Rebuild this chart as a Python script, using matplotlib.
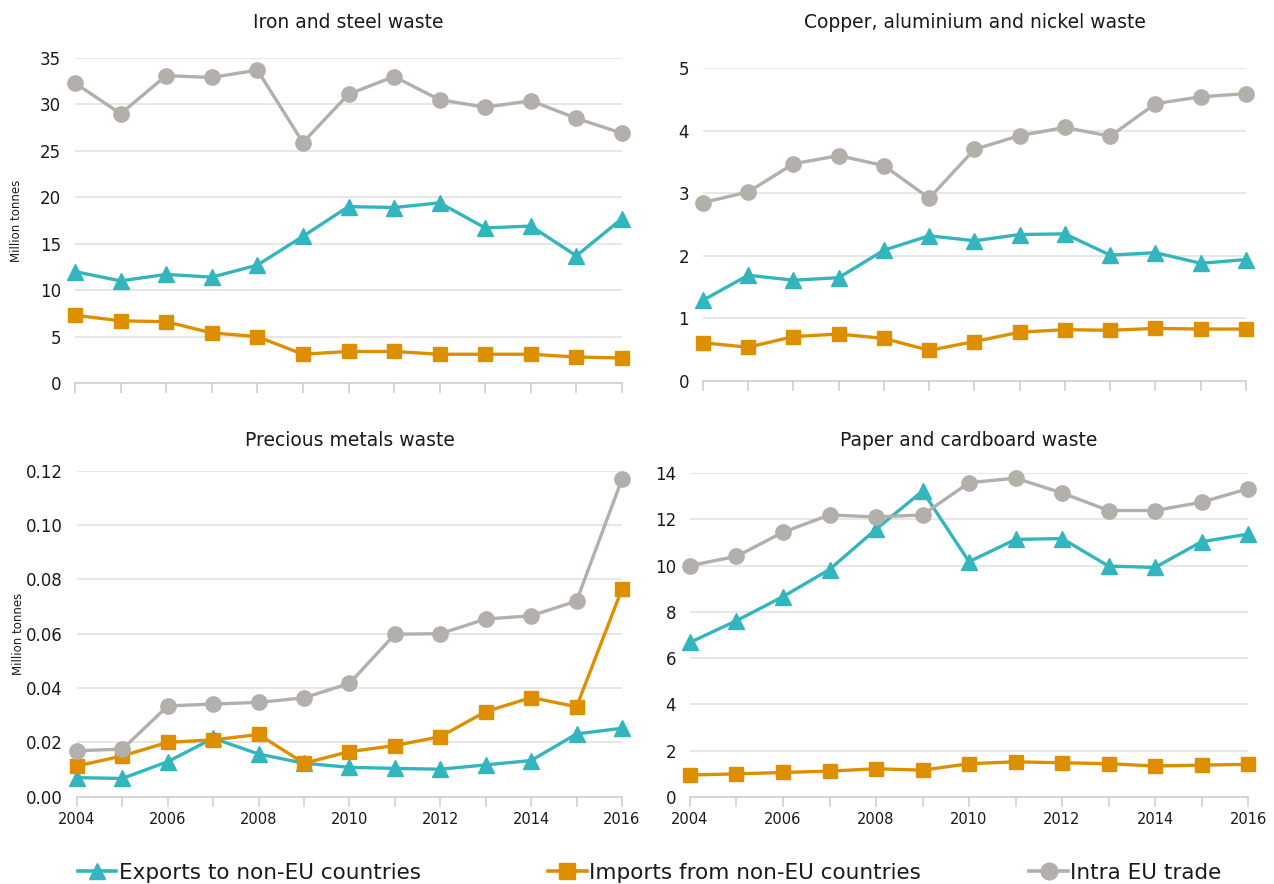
import numpy as np
import matplotlib
matplotlib.use('Agg')
import matplotlib.pyplot as plt
from matplotlib.lines import Line2D

years = list(range(2004, 2017))

# Iron and steel waste
iron_exports = [12.0, 11.0, 11.7, 11.4, 12.7, 15.8, 19.0, 18.9, 19.4, 16.7, 16.9, 13.7, 17.7]
iron_imports = [7.3, 6.7, 6.6, 5.4, 5.0, 3.1, 3.4, 3.4, 3.1, 3.1, 3.1, 2.8, 2.7]
iron_intra = [32.3, 29.0, 33.1, 32.9, 33.7, 25.9, 31.1, 33.0, 30.5, 29.7, 30.4, 28.5, 26.9]

# Copper, aluminium and nickel waste
copper_exports = [1.29, 1.69, 1.61, 1.65, 2.09, 2.32, 2.24, 2.34, 2.35, 2.01, 2.05, 1.88, 1.94]
copper_imports = [0.61, 0.54, 0.71, 0.75, 0.68, 0.49, 0.63, 0.78, 0.82, 0.81, 0.84, 0.83, 0.83]
copper_intra = [2.85, 3.02, 3.47, 3.60, 3.44, 2.92, 3.70, 3.92, 4.05, 3.91, 4.43, 4.54, 4.59]

# Precious metals waste
precious_exports = [0.0070, 0.0067, 0.0129, 0.0215, 0.0157, 0.0123, 0.0108, 0.0104, 0.0101,
                    0.0117, 0.0133, 0.0231, 0.0252]
precious_imports = [0.0113, 0.0150, 0.0200, 0.0209, 0.0229, 0.0123, 0.0166, 0.0188, 0.0221,
                    0.0313, 0.0365, 0.0331, 0.0764]
precious_intra = [0.0169, 0.0175, 0.0334, 0.0341, 0.0347, 0.0364, 0.0417, 0.0598, 0.0600,
                  0.0654, 0.0666, 0.0720, 0.1169]

# Paper and cardboard waste
paper_exports = [6.68, 7.62, 8.66, 9.83, 11.57, 13.22, 10.17, 11.13, 11.17, 9.98, 9.92, 11.03, 11.36]
paper_imports = [0.95, 1.00, 1.06, 1.12, 1.22, 1.16, 1.44, 1.52, 1.48, 1.44, 1.34, 1.38, 1.41]
paper_intra = [10.0, 10.4, 11.44, 12.19, 12.1, 12.19, 13.58, 13.78, 13.14, 12.38, 12.38, 12.74, 13.32]

series_names = ['Exports to non-EU countries', 'Imports from non-EU countries', 'Intra EU trade']
colors = ['#33b5bd', '#de8f00', '#b3afab']
markers = ['^', 's', 'o']
msizes = [11, 10, 11]

panels = [
    ('Iron and steel waste', [iron_exports, iron_imports, iron_intra],
     [0.0589, 0.5667, 0.4293, 0.3677], (0, 35), np.arange(0, 36, 5), '{:.0f}', False, True,
     1 - 22 / 884),
    ('Copper, aluminium and nickel waste', [copper_exports, copper_imports, copper_intra],
     [0.5518, 0.5690, 0.4262, 0.3541], (0, 5), np.arange(0, 6, 1), '{:.0f}', False, False,
     1 - 22 / 884),
    ('Precious metals waste', [precious_exports, precious_imports, precious_intra],
     [0.0604, 0.0988, 0.4278, 0.3687], (0, 0.12), np.arange(0, 0.121, 0.02), '{:.2f}', True, True,
     1 - 440 / 884),
    ('Paper and cardboard waste', [paper_exports, paper_imports, paper_intra],
     [0.5416, 0.0984, 0.4380, 0.3665], (0, 14), np.arange(0, 15, 2), '{:.0f}', True, False,
     1 - 440 / 884),
]

fig = plt.figure(figsize=(12.74, 8.84), dpi=100)
text_color = '#1a1a1a'

for title, data, rect, ylim, yticks, fmt, xlabels, ylab, ty in panels:
    ax = fig.add_axes(rect)
    for vals, c, m, ms in zip(data, colors, markers, msizes):
        ax.plot(years, vals, color=c, marker=m, markersize=ms, linewidth=2.4,
                clip_on=False, zorder=3)
    ax.set_xlim(2004, 2016)
    ax.set_ylim(*ylim)
    ax.set_yticks(yticks)
    ax.set_yticklabels([fmt.format(v) for v in yticks])
    ax.set_xticks(years)
    if xlabels:
        ax.set_xticklabels([str(y) if (y - 2004) % 2 == 0 else '' for y in years])
    else:
        ax.set_xticklabels([])
    ax.grid(axis='y', color='#e3e3e3', linewidth=1.2)
    ax.set_axisbelow(True)
    for s in ['top', 'right', 'left']:
        ax.spines[s].set_visible(False)
    ax.spines['bottom'].set_color('#cfcfcf')
    ax.spines['bottom'].set_linewidth(1.2)
    ax.tick_params(axis='y', length=0, pad=10, labelsize=12, labelcolor=text_color)
    ax.tick_params(axis='x', length=7, width=1.2, color='#cfcfcf', pad=4,
                   labelsize=10.5, labelcolor=text_color)
    fig.text(rect[0] + rect[2] / 2, ty, title, fontsize=13.5, color=text_color,
             ha='center', va='center')
    if ylab:
        ax.set_ylabel('Million tonnes', fontsize=8.5, color=text_color)
        ax.yaxis.set_label_coords(-0.095, 0.5)

legend_x = [0.061, 0.430, 0.808]
for name, c, m, x in zip(series_names, colors, markers, legend_x):
    h = Line2D([0], [0], color=c, marker=m, markersize=12, linewidth=2.6)
    fig.legend(handles=[h], labels=[name], loc='center left', bbox_to_anchor=(x, 0.013),
               frameon=False, fontsize=15.5, handlelength=1.8, handletextpad=0.1,
               borderpad=0, borderaxespad=0, labelcolor=text_color)

fig.savefig('out.png', dpi=100)
